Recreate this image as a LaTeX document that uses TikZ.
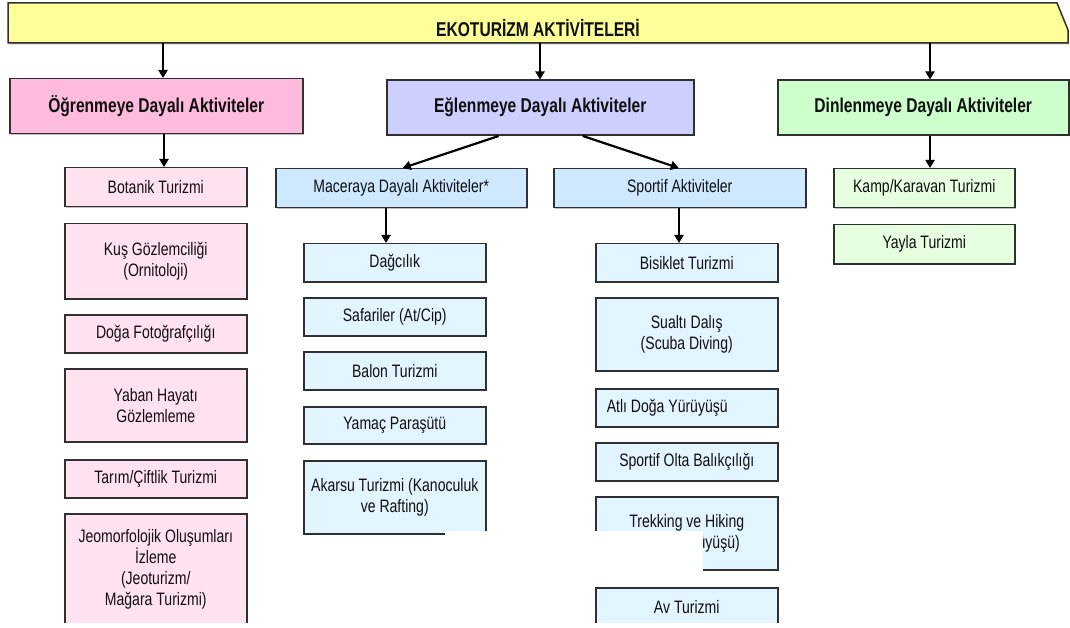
\documentclass[tikz,border=0pt]{standalone}
\usepackage{fontspec}
\setmainfont{Liberation Sans}[FakeStretch=0.78]
\usetikzlibrary{arrows.meta,calc,shadows}
\definecolor{banc}{HTML}{FFFF99}
\definecolor{bord}{HTML}{303030}
\definecolor{txtc}{HTML}{101010}
\definecolor{pinkh}{HTML}{FFBBDD}
\definecolor{lavh}{HTML}{CFCFFF}
\definecolor{greenh}{HTML}{CCFFCC}
\definecolor{pinkc}{HTML}{FFE1F0}
\definecolor{blueh}{HTML}{CEE8FF}
\definecolor{bluec}{HTML}{E1F4FF}
\definecolor{greenc}{HTML}{E6FFE0}
\tikzset{
  bx/.style={draw=bord, line width=1.5pt, inner sep=0pt, anchor=north west,
    align=center, text=txtc, font=\fontsize{18}{21}\selectfont,
    drop shadow={shadow xshift=1pt, shadow yshift=-1pt, fill=black, opacity=0.25}},
  hd/.style={bx, font=\bfseries\fontsize{20}{22}\selectfont},
  pkh/.style={hd, fill=pinkh},
  lvh/.style={hd, fill=lavh},
  grh/.style={hd, fill=greenh},
  pkc/.style={bx, fill=pinkc},
  blh/.style={bx, fill=blueh},
  blc/.style={bx, fill=bluec},
  grc/.style={bx, fill=greenc},
  arr/.style={line width=2.2pt, draw=black, -{Triangle[width=9pt,length=8pt]}},
}
\begin{document}
\begin{tikzpicture}[x=1pt,y=-1pt]
\useasboundingbox (0,0) rectangle (1070,628);
\begin{scope}
\clip (0,0) rectangle (1070,622);
% banner
\fill[black, opacity=0.25] (9,4) -- (1058,4) -- (1069,31) -- (1069,44.5) -- (9,44.5) -- cycle;
\filldraw[fill=banc, draw=bord, line width=1.5pt] (8,3) -- (1057,3) -- (1068,30) -- (1068,43) -- (8,43) -- cycle;
\node[inner sep=0pt, minimum width=1060pt, minimum height=40pt, anchor=north west] (ban) at (8,3) {};
\node[inner sep=0pt, font=\bfseries\fontsize{20}{22}\selectfont, text=txtc] (bant) at (538,28) {EKOTURİZM AKTİVİTELERİ};

% level 2
\node[pkh, minimum width=293pt, minimum height=55pt] (ogr) at (9,78) {Öğrenmeye Dayalı Aktiviteler};
\node[lvh, minimum width=307pt, minimum height=55pt] (egl) at (386,79.5) {Eğlenmeye Dayalı Aktiviteler};
\node[grh, minimum width=291pt, minimum height=55pt] (din) at (777,79.5) {Dinlenmeye Dayalı Aktiviteler};

% level 3 headers
\node[blh, minimum width=251pt, minimum height=39pt] (mac) at (275,168) {Maceraya Dayalı Aktiviteler*};
\node[blh, minimum width=252pt, minimum height=39pt] (spo) at (553,168) {Sportif Aktiviteler};

% pink children
\node[pkc, minimum width=182pt, minimum height=39pt] (bot) at (64,167) {Botanik Turizmi};
\node[pkc, minimum width=182pt, minimum height=75pt] (kus) at (64,223) {Kuş Gözlemciliği\\(Ornitoloji)};
\node[pkc, minimum width=182pt, minimum height=38pt] (dfo) at (64,314) {Doğa Fotoğrafçılığı};
\node[pkc, minimum width=182pt, minimum height=73pt] (yab) at (64,368) {Yaban Hayatı\\Gözlemleme};
\node[pkc, minimum width=182pt, minimum height=38pt] (tar) at (64,459) {Tarım/Çiftlik Turizmi};
\node[pkc, minimum width=182pt, minimum height=112pt] (jeo) at (64,513) {Jeomorfolojik Oluşumları\\İzleme\\(Jeoturizm/\\Mağara Turizmi)};

% adventure children
\node[blc, minimum width=182pt, minimum height=38pt] (dag) at (303,243) {Dağcılık};
\node[blc, minimum width=182pt, minimum height=38pt] (saf) at (303,297) {Safariler (At/Cip)};
\node[blc, minimum width=182pt, minimum height=38pt] (bal) at (303,351) {Balon Turizmi};
\node[blc, minimum width=182pt, minimum height=37pt] (yam) at (303,406) {Yamaç Paraşütü};
\node[blc, minimum width=182pt, minimum height=73pt] (aka) at (303,460) {Akarsu Turizmi (Kanoculuk\\ve Rafting)};

% sport children
\node[blc, minimum width=182pt, minimum height=38pt] (bis) at (595,243) {Bisiklet Turizmi};
\node[blc, minimum width=182pt, minimum height=73pt] (sua) at (595,297) {Sualtı Dalış\\(Scuba Diving)};
\node[blc, minimum width=182pt, minimum height=38pt] (atl) at (595,388) {\makebox[160pt][l]{Atlı Doğa Yürüyüşü}};
\node[blc, minimum width=182pt, minimum height=38pt] (olt) at (595,442) {Sportif Olta Balıkçılığı};
\node[blc, minimum width=182pt, minimum height=73pt] (tre) at (595,496) {Trekking ve Hiking\\(Doğa Yürüyüşü)};
\node[blc, minimum width=182pt, minimum height=38pt] (avt) at (595,587) {Av Turizmi};

% green children
\node[grc, minimum width=181pt, minimum height=39pt] (kam) at (833,168) {Kamp/Karavan Turizmi};
\node[grc, minimum width=181pt, minimum height=39pt] (yay) at (833,224) {Yayla Turizmi};

% connector x positions
\coordinate (xa) at (163,0);
\coordinate (xb) at (540,0);
\coordinate (xc) at (930,0);
\coordinate (xd) at (164,0);
\coordinate (xe) at (386,0);
\coordinate (xf) at (679,0);

\draw[arr] (ban.south -| xa) -- (ogr.north -| xa);
\draw[arr] (ban.south -| xb) -- (egl.north -| xb);
\draw[arr] (ban.south -| xc) -- (din.north -| xc);
\draw[arr] (ogr.south -| xd) -- (bot.north -| xd);
\draw[arr] (din.south -| xc) -- (kam.north -| xc);
\draw[arr] ($(egl.south west)!0.365!(egl.south east)$) -- ($(mac.north west)!0.506!(mac.north east)$);
\draw[arr] ($(egl.south west)!0.638!(egl.south east)$) -- ($(spo.north west)!0.496!(spo.north east)$);
\draw[arr] (mac.south -| xe) -- (dag.north -| xe);
\draw[arr] (spo.south -| xf) -- (bis.north -| xf);

% white patch covering part of the picture
\fill[white] (445,530.5) rectangle (703,571);
\end{scope}
\end{tikzpicture}
\end{document}
